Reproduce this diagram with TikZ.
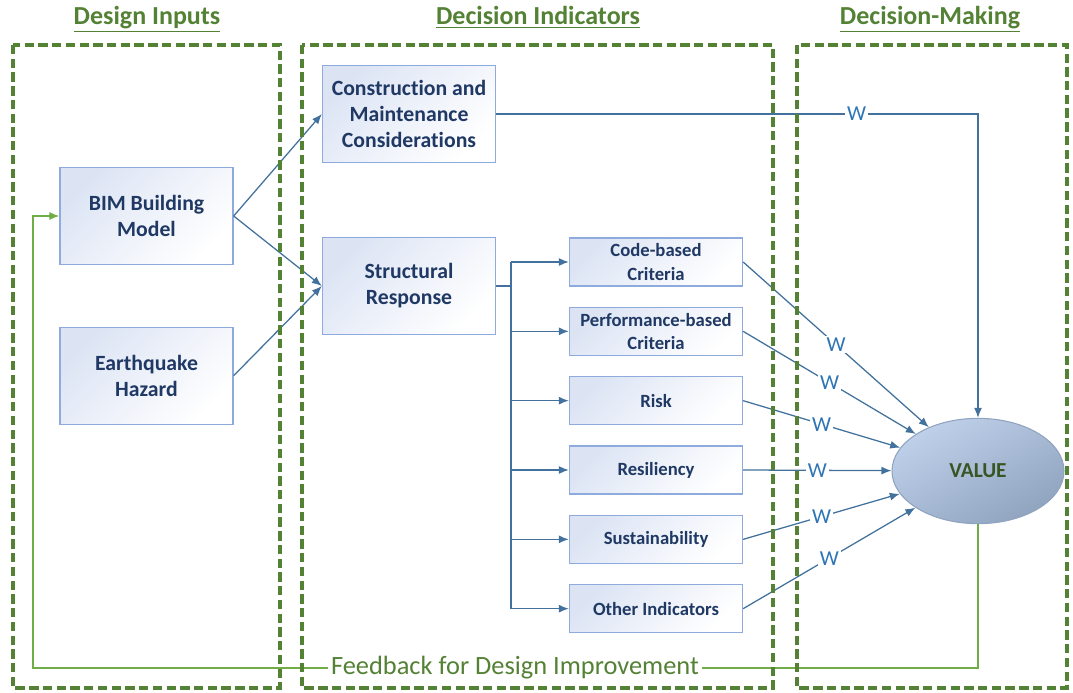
\documentclass[tikz,border=0pt]{standalone}
\usepackage{fontspec}
\setmainfont{Carlito}[Ligatures=NoCommon]
\usepackage{tikz}
\usetikzlibrary{shapes.geometric,arrows.meta,positioning,calc}
\usepackage{xcolor}
\definecolor{dgreen}{HTML}{548235}
\definecolor{lgreen}{HTML}{70AD47}
\definecolor{vgreen}{HTML}{375623}
\definecolor{navy}{HTML}{1F3864}
\definecolor{lnblue}{HTML}{41719C}
\definecolor{wblue}{HTML}{2E75B6}
\definecolor{bxline}{HTML}{8FAADC}
\definecolor{bxfill}{HTML}{DCE4F4}
\definecolor{vtop}{HTML}{BFD0EA}
\definecolor{vbot}{HTML}{90A4BF}

\begin{document}
\begin{tikzpicture}[x=0.75pt,y=-0.75pt,
  every node/.style={align=center,inner sep=0pt},%
  ti/.style={text=dgreen,font=\fontsize{19.5}{23}\selectfont\bfseries},%
  db/.style={draw=dgreen,line width=2.6pt,dash pattern=on 7pt off 3.3pt},%
  bx/.style={draw=bxline,line width=1pt,top color=bxfill,bottom color=white,%
    shading angle=45,text=navy,minimum width=129.75pt,minimum height=72.75pt,%
    font=\fontsize{16.3}{19.5}\selectfont\bfseries},%
  sb/.style={bx,minimum height=36pt,font=\fontsize{14}{17.6}\selectfont\bfseries},%
  vl/.style={ellipse,draw=vbot,line width=0.8pt,top color=vtop,bottom color=vbot,%
    shading angle=30,text=vgreen,minimum width=129pt,minimum height=79pt,%
    font=\fontsize{16}{19}\selectfont\bfseries},%
  ln/.style={draw=lnblue,line width=0.95pt},%
  e/.style={ln,-{Latex[length=7.5pt,width=6pt]}},%
  w/.style={fill=white,text=wblue,inner sep=1.5pt,font=\fontsize{16}{19}\selectfont},%
  fb/.style={draw=lgreen,line width=0.9pt,-{Latex[length=7.5pt,width=6pt]}},%
  ft/.style={fill=white,text=dgreen,inner sep=2pt,font=\fontsize{19.8}{23}\selectfont},%
  ]
  \useasboundingbox (0,0) rectangle (1073,692);
  % titles
  \node (t1) [ti,anchor=base] at (147,25) {\underline{Design Inputs}};
  \node (t2) [ti,anchor=base] at (538,25) {\underline{Decision Indicators}};
  \node (t3) [ti,anchor=base] at (930,25) {\underline{Decision-Making}};
  % inputs
  \node (bim) [bx] at (146.5,216) {BIM Building\\Model};
  \node (eq) [bx,below=46pt of bim] {Earthquake\\Hazard};
  % indicators
  \node (cm) [bx] at (409,114) {Construction and\\Maintenance\\Considerations};
  \node (sr) [bx] at (409,286) {Structural\\Response};
  \node (code) [sb] at (656,262) {Code-based\\Criteria};
  \node (perf) [sb,below=15pt of code] {Performance-based\\Criteria};
  \node (risk) [sb,below=15pt of perf] {Risk};
  \node (res) [sb,below=15pt of risk] {Resiliency};
  \node (sus) [sb,below=15pt of res] {Sustainability};
  \node (oth) [sb,below=15pt of sus] {Other Indicators};
  % decision
  \node (val) [vl] at (978,471) {VALUE};
  \coordinate (bus) at (511,286);
  \coordinate (fbc) at (33,668);
  \draw [e] (bim.east) -- (cm.west);
  \draw [e] (bim.east) -- (sr.west);
  \draw [e] (eq.east) -- (sr.west);
  \draw [ln] (sr.east) -- (bus);
  \draw [ln] (bus |- code.west) -- (bus |- oth.west);
  \foreach \n in {code,perf,risk,res,sus,oth}{
    \draw [e] (bus |- \n.west) -- (\n.west);
    \draw [e] (\n.east) -- (val) node [w,midway] {W};
  }
  \draw [e] (cm.east) -| node [w,pos=0.374] {W} (val.north);
  \draw [fb] (val.south) |- node [ft,pos=0.745] {Feedback for Design Improvement} (fbc) |- (bim.west);
  % dashed frames
  \draw [db] (13,45) rectangle (280,688);
  \draw [db] (302,45) rectangle (773,688);
  \draw [db] (797,45) rectangle (1067,688);
\end{tikzpicture}
\end{document}
